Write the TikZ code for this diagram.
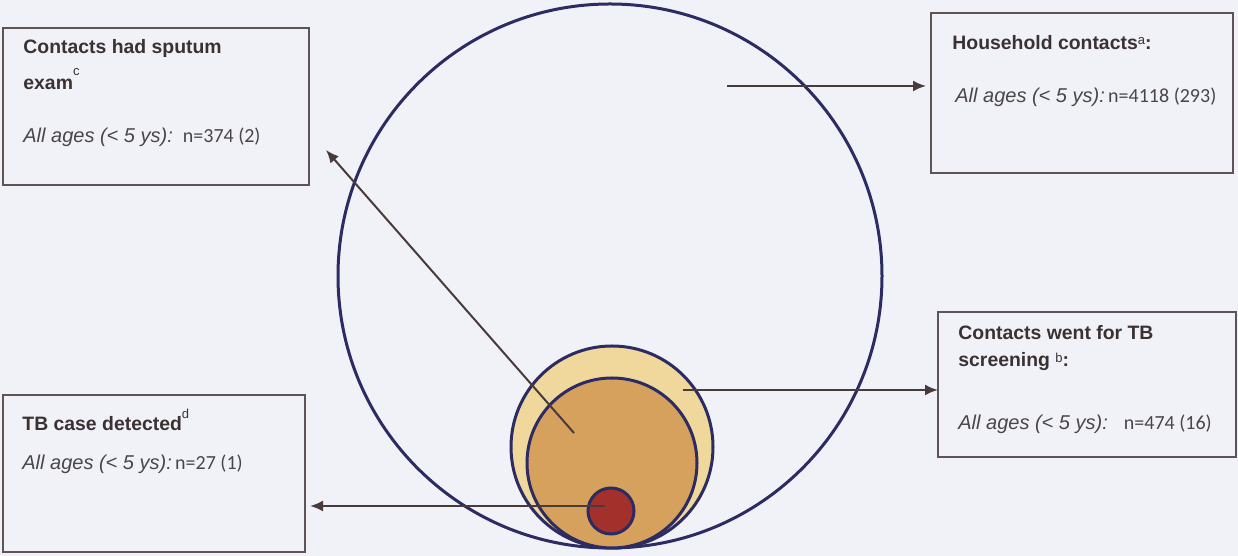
\documentclass[tikz,border=0pt]{standalone}
\usepackage{fontspec}
\usepackage{tikz}
\usepackage{xcolor}
\usetikzlibrary{arrows.meta,positioning,calc}
\setmainfont{Liberation Sans}
\newfontfamily\countfont{Carlito}
\definecolor{paper}{HTML}{F1F2F7}
\definecolor{ink}{HTML}{3A3132}
\definecolor{inkgray}{HTML}{4A4547}
\definecolor{boxline}{HTML}{5E5355}
\definecolor{arrowink}{HTML}{4A3B3B}
\definecolor{navy}{HTML}{2C2B63}
\definecolor{sandfill}{HTML}{F0D89C}
\definecolor{ochrefill}{HTML}{D5A15C}
\definecolor{rustfill}{HTML}{A3302A}
\tikzset{
  infobox/.style={draw=boxline,fill=paper,line width=1pt,
                  inner sep=0pt,outer sep=0pt,anchor=north west},
  headtext/.style={anchor=base west,align=left,inner sep=0pt,text=ink,
                   font=\fontsize{9.7}{12}\selectfont\bfseries},
  agetext/.style={anchor=base west,inner sep=0pt,text=inkgray,
                  font=\fontsize{10}{12}\selectfont\itshape},
  ring/.style={draw=navy,line width=1.5pt},
  flowarr/.style={-{Latex[length=6.5pt,width=5.5pt]},line width=1pt,color=arrowink}
}
\newcommand{\supmark}[2]{\raisebox{#1}{\fontsize{6.5}{6.5}\selectfont\mdseries #2}}
\newcommand{\nval}[1]{{\upshape\countfont\fontsize{10}{12}\selectfont #1}}

\begin{document}
\begin{tikzpicture}[x=0.5pt,y=0.5pt,>=Latex]
  \fill[paper] (0,0) rectangle (1238,556);
  \useasboundingbox (0,0) rectangle (1238,556);

  % nested circles
  \draw[ring] (610,280) circle (272);
  \draw[ring,fill=sandfill] (612,109) circle (101);
  \draw[ring,fill=ochrefill] (612,93) circle (85);
  \draw[ring,fill=rustfill] (611,45) circle (23);

  % boxes
  \node[infobox,minimum width=153pt,minimum height=78.5pt] (sputum) at (3,528) {};
  \node[infobox,minimum width=151pt,minimum height=80pt] (household) at (931,543) {};
  \node[infobox,minimum width=149pt,minimum height=72.5pt] (screen) at (938,244) {};
  \node[infobox,minimum width=151pt,minimum height=78.5pt] (tbcase) at (3,161) {};

  \node[headtext] (sputumhead) at (23,466) {Contacts had sputum\\[4.5pt]exam\supmark{7pt}{c}};
  \node[agetext] (sputumage) at (23,413) {All ages (< 5 ys):\hspace{5pt}\nval{n=374 (2)}};
  \node[headtext] (householdhead) at (952,506) {Household contacts\supmark{2.5pt}{a}:};
  \node[agetext] (householdage) at (955,453) {All ages (< 5 ys):\,\nval{n=4118 (293)}};
  \node[headtext] (screenhead) at (958,189) {Contacts went for TB\\[1.5pt]screening \supmark{2pt}{b}:};
  \node[agetext] (screenage) at (958,126) {All ages (< 5 ys):\hspace{8pt}\nval{n=474 (16)}};
  \node[headtext] (tbcasehead) at (22,125) {TB case detected\supmark{6pt}{d}};
  \node[agetext] (tbcaseage) at (22,86) {All ages (< 5 ys):\,\nval{n=27 (1)}};

  % pointers from the circles
  \coordinate (hhfrom) at (727,470);
  \coordinate (scrfrom) at (683,166);
  \coordinate (spfrom) at (574,123);
  \coordinate (spto) at (326,406);
  \coordinate (tbfrom) at (605,50);
  \draw[flowarr,shorten >=2.5pt] (hhfrom) -- (hhfrom -| household.west);
  \draw[flowarr] (scrfrom) -- (scrfrom -| screen.west);
  \draw[flowarr] (spfrom) -- (spto);
  \draw[flowarr,shorten >=2.5pt] (tbfrom) -- (tbfrom -| tbcase.east);
\end{tikzpicture}
\end{document}
